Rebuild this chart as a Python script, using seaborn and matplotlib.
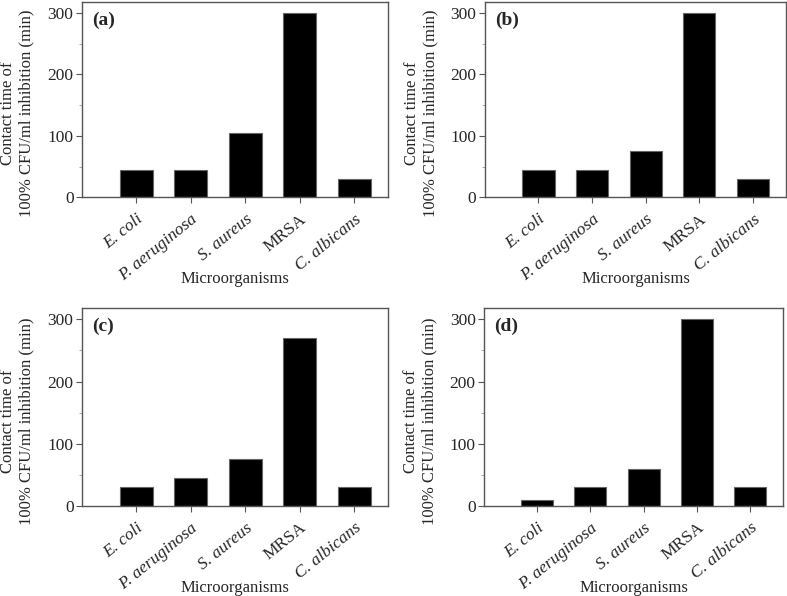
import numpy as np
import pandas as pd
import seaborn as sns
import matplotlib.pyplot as plt
from matplotlib.ticker import MultipleLocator

sns.set_style("ticks")
plt.rcParams['font.family'] = ['Liberation Serif', 'DejaVu Serif']

organisms = ["E. coli", "P. aeruginosa", "S. aureus", "MRSA", "C. albicans"]
italic_names = [True, True, True, False, True]
panel_labels = ["(a)", "(b)", "(c)", "(d)"]

# contact time (min) for 100% CFU/ml inhibition, per panel
time_a = [45, 45, 105, 300, 30]
time_b = [45, 45, 75, 300, 30]
time_c = [30, 45, 75, 270, 30]
time_d = [10, 30, 60, 300, 30]
all_times = [time_a, time_b, time_c, time_d]

fig = plt.figure(figsize=(7.87, 5.96), dpi=100)
positions = [[0.104, 0.669, 0.389, 0.328],
             [0.616, 0.669, 0.383, 0.328],
             [0.104, 0.151, 0.389, 0.332],
             [0.615, 0.151, 0.380, 0.332]]

spine_col = "#555555"
for pos, times, lab in zip(positions, all_times, panel_labels):
    ax = fig.add_axes(pos)
    df = pd.DataFrame({"organism": organisms, "time": times})
    sns.barplot(data=df, x="organism", y="time", color="black",
                width=0.6, edgecolor="#666666", linewidth=0.8, ax=ax, saturation=1)
    ax.set_xlim(-1, 4.62)
    ax.set_ylim(0, 318)
    ax.yaxis.set_major_locator(MultipleLocator(100))
    ax.yaxis.set_minor_locator(MultipleLocator(50))
    for s in ax.spines.values():
        s.set_color(spine_col)
        s.set_linewidth(1.0)
    ax.tick_params(axis="both", which="major", direction="out", length=4,
                   color=spine_col, labelsize=12.5, pad=2)
    ax.tick_params(axis="x", which="major", pad=6)
    ax.tick_params(axis="y", which="minor", direction="out", length=2.5, color="#999999")
    ax.set_xticks(range(len(organisms)))
    ax.set_xticklabels(organisms, rotation=39, ha="right", rotation_mode="anchor")
    for t, it in zip(ax.get_xticklabels(), italic_names):
        if it:
            t.set_style("italic")
    ax.set_xlabel("Microorganisms", fontsize=12)
    ax.xaxis.set_label_coords(0.5, -0.375)
    ax.set_ylabel("Contact time of\n100% CFU/ml inhibition (min)", fontsize=12)
    ax.yaxis.set_label_coords(-0.155, 0.43)
    ax.text(0.035, 0.95, lab, transform=ax.transAxes, fontsize=14,
            fontweight="bold", va="top", ha="left")

fig.savefig("out.png", dpi=100)
